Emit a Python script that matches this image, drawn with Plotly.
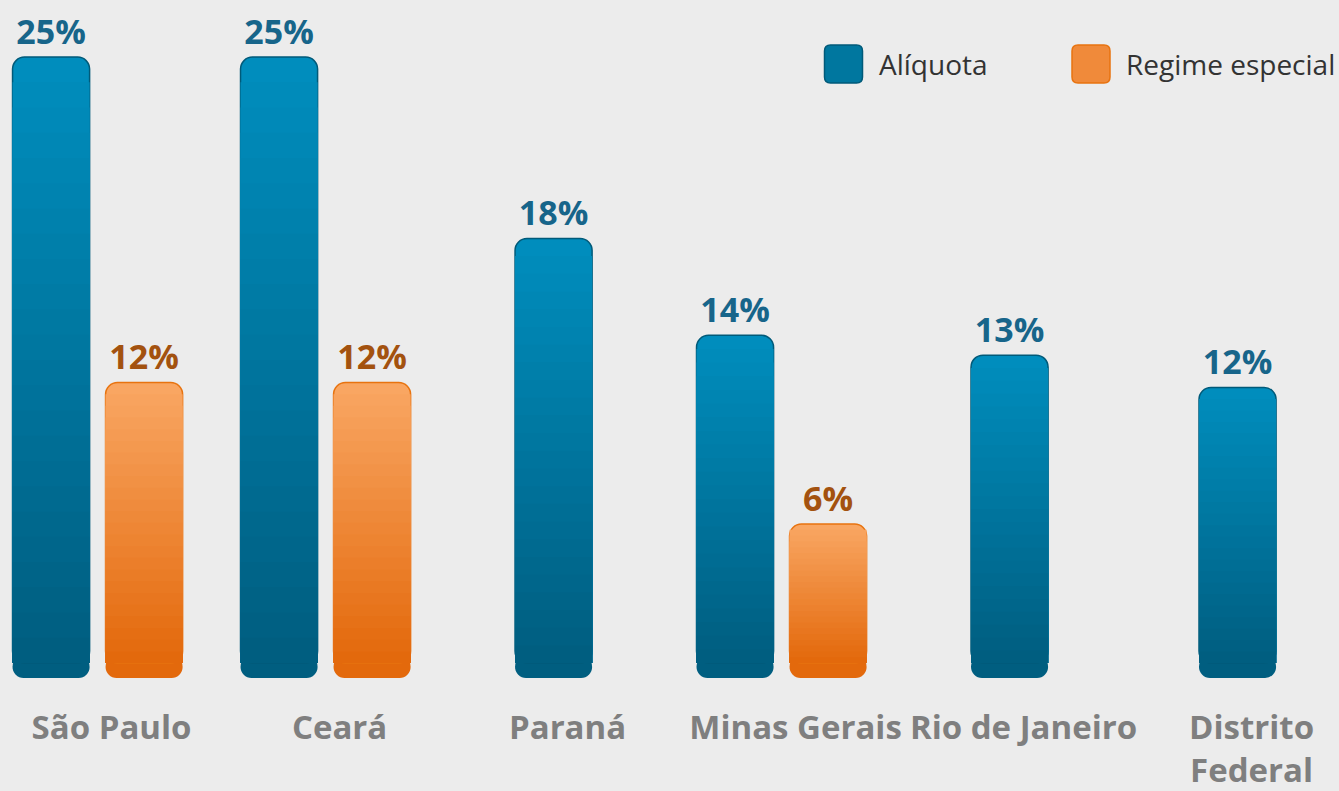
import plotly.graph_objects as go

categories = ["São Paulo", "Ceará", "Paraná", "Minas Gerais", "Rio de Janeiro", "Distrito<br>Federal"]
aliquota = [25.0, 25.0, 17.7, 13.8, 13.0, 11.7]
regime = [11.9, 11.9, None, 6.2, None, None]
series_names = ["Alíquota", "Regime especial"]

N = 24
W = 0.338   # bar width (category units)
G = 0.07    # gap between paired bars
CAP = 0.9   # height of the rounded bottom cap (y units)
B0 = 0.6    # base of the gradient layers (overlaps the cap)
FONT = "Open Sans"


def lerp(c1, c2, t):
    return "#%02x%02x%02x" % tuple(round(a + (b - a) * t) for a, b in zip(c1, c2))


BLUE_TOP, BLUE_BOT = (0x00, 0x8d, 0xbd), (0x00, 0x5e, 0x80)
ORNG_TOP, ORNG_BOT = (0xf9, 0xa6, 0x62), (0xe3, 0x69, 0x0c)

fig = go.Figure()


def add_series(xs, vals, offs, top, bot, line_col, txt_col, name):
    n = len(vals)
    # rounded bottom cap (negative bar hanging from CAP down to 0)
    fig.add_trace(go.Bar(
        x=xs, y=[-CAP] * n, base=[CAP] * n, width=W, offset=offs,
        marker=dict(color=lerp(top, bot, 1.0), line=dict(width=0), cornerradius=12),
        showlegend=False, hoverinfo="skip", name=name,
    ))
    for k in range(N):
        frac = (N - k) / N
        first = k == 0
        fig.add_trace(go.Bar(
            x=xs, y=[(v - B0) * frac for v in vals], base=[B0] * n, width=W, offset=offs,
            marker=dict(color=lerp(top, bot, k / (N - 1)),
                        line=dict(color=line_col, width=1.5 if first else 0),
                        cornerradius=12 if first else 0),
            text=[f"{v:.0f}%" for v in vals] if first else None,
            textposition="outside" if first else "none",
            textfont=dict(family=FONT, size=34, color=txt_col, weight="bold"),
            cliponaxis=False,
            name=name, showlegend=False, hoverinfo="skip",
        ))


xa = list(range(len(categories)))
offa = [-(W + G / 2) if r is not None else -W / 2 for r in regime]
add_series(xa, aliquota, offa, BLUE_TOP, BLUE_BOT, "#005a79", "#17658a", series_names[0])

xr = [i for i, r in enumerate(regime) if r is not None]
vr = [r for r in regime if r is not None]
add_series(xr, vr, [G / 2] * len(xr), ORNG_TOP, ORNG_BOT, "#e8730f", "#a3520f", series_names[1])

# custom legend (rounded swatches + labels), placed in paper coordinates
PLOT_W, PLOT_H = 1339, 678
legend_items = [
    (series_names[0], 843.5, "#00779f", "#005a79"),
    (series_names[1], 1091, "#f08a3a", "#e8730f"),
]
ly = (PLOT_H - 64) / PLOT_H
r, h = 6, 19
sw_path = (f"M {-h + r},{-h} L {h - r},{-h} Q {h},{-h} {h},{-h + r} L {h},{h - r} Q {h},{h} {h - r},{h} "
           f"L {-h + r},{h} Q {-h},{h} {-h},{h - r} L {-h},{-h + r} Q {-h},{-h} {-h + r},{-h} Z")
for name, cx, fillc, linec in legend_items:
    fig.add_shape(type="path", xref="paper", yref="paper", xsizemode="pixel", ysizemode="pixel",
                  xanchor=cx / PLOT_W, yanchor=ly, path=sw_path,
                  fillcolor=fillc, line=dict(color=linec, width=1.5), layer="above")
    fig.add_annotation(xref="paper", yref="paper", x=(cx + 33) / PLOT_W, y=ly, xanchor="left",
                       yanchor="middle", text=name, showarrow=False,
                       font=dict(family=FONT, size=28, color="#333333"))

fig.update_layout(
    width=1339, height=791,
    barmode="overlay",
    paper_bgcolor="#ececec", plot_bgcolor="rgba(0,0,0,0)",
    margin=dict(l=0, r=0, t=0, b=113),
    font=dict(family=FONT, color="#333333"),
    showlegend=False,
    xaxis=dict(range=[-0.428, 5.445], tickmode="array", tickvals=xa, ticktext=categories,
               showgrid=False, zeroline=False, showline=False,
               ticks="outside", ticklen=20, tickcolor="rgba(0,0,0,0)", ticklabelshift=14,
               tickfont=dict(family=FONT, size=33, color="#7f7f7f", weight="bold")),
    yaxis=dict(range=[0, 27.3], visible=False, showgrid=False, zeroline=False),
)

fig.write_html("out.html", config={"displayModeBar": False},
               post_script="document.body.style.margin='0';document.body.style.background='#ececec';")
